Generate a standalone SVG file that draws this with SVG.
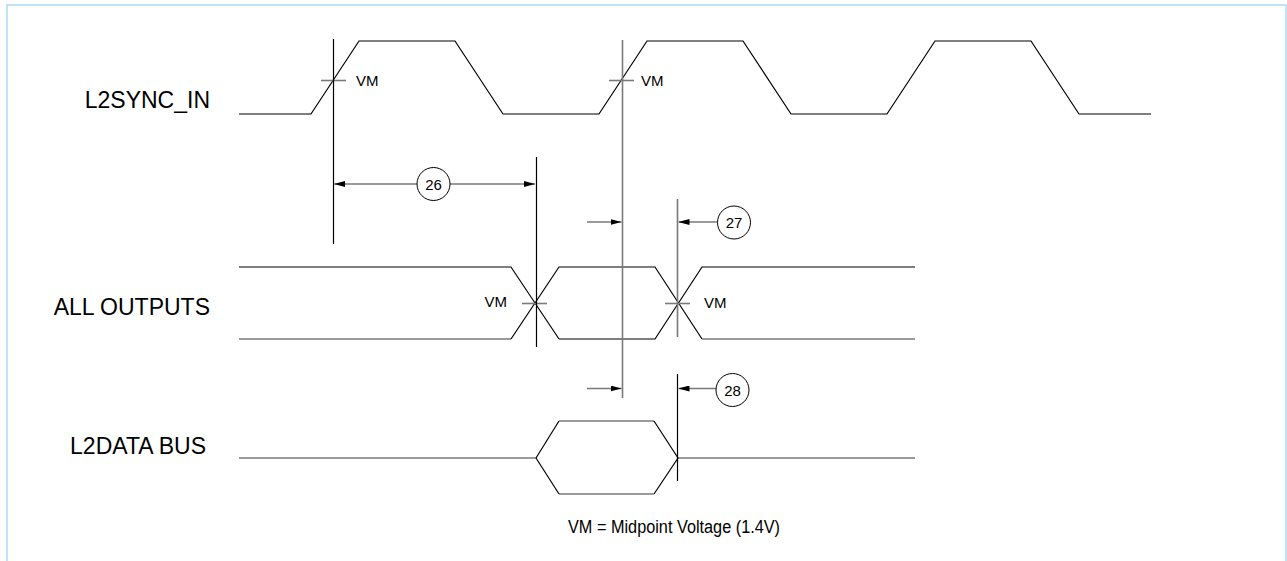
<svg xmlns="http://www.w3.org/2000/svg" width="1287" height="561" viewBox="0 0 1287 561">
<style>
.bk{fill:none;stroke:#000;stroke-width:1.2}
.gr{fill:none;stroke:#7a7a7a;stroke-width:1.6}
.lbl{font-family:"Liberation Sans",Arial,sans-serif;font-size:23px;fill:#000;text-anchor:end}
.foot{font-family:"Liberation Sans",Arial,sans-serif;font-size:18px;fill:#000;text-anchor:middle}
.vm{font-family:"Liberation Sans",Arial,sans-serif;font-size:15px;fill:#000}
.num{font-family:"Liberation Sans",Arial,sans-serif;font-size:15px;fill:#000;text-anchor:middle}
.circ{fill:#fff;stroke:#000;stroke-width:1}
</style>
<defs>
<marker id="ah" viewBox="0 0 11 6" refX="11" refY="3" markerWidth="11" markerHeight="6" markerUnits="userSpaceOnUse" orient="auto">
<path d="M0,0 L11,3 L0,6 z" fill="#000"/>
</marker>
</defs>
<rect x="7" y="5" width="1279" height="600" fill="#fff" stroke="#a8dcf8" stroke-width="1.5"/>

<g id="labels">
<text class="lbl" x="210" y="108">L2SYNC_IN</text>
<text class="lbl" x="210" y="315">ALL OUTPUTS</text>
<text class="lbl" x="206" y="454">L2DATA BUS</text>
<text class="foot" x="674" y="533" textLength="212" lengthAdjust="spacingAndGlyphs">VM = Midpoint Voltage (1.4V)</text>
</g>

<g id="l2sync_in">
<polyline class="bk" points="239,114 311,114 359,41 455,41 503,114 599,114 647,41 743,41 791,114 887,114 935,41 1031,41 1079,114 1151,114"/>
<line class="gr" x1="321" y1="80.5" x2="346" y2="80.5"/>
<line class="gr" x1="609" y1="80.5" x2="634" y2="80.5"/>
<text class="vm" x="356" y="86">VM</text>
<text class="vm" x="641" y="86">VM</text>
</g>

<g id="all_outputs">
<polyline class="bk" points="239,267 511,267 559,339"/>
<polyline class="gr" points="239,339 511,339"/>
<polyline class="bk" points="511,339 559,267 655,267 702,339"/>
<polyline class="bk" points="559,339 655,339 702,267 915,267"/>
<line class="gr" x1="702" y1="339" x2="915" y2="339"/>
<line class="gr" x1="522" y1="303.5" x2="547" y2="303.5"/>
<line class="gr" x1="665" y1="303.5" x2="690" y2="303.5"/>
<text class="vm" x="484.5" y="307">VM</text>
<text class="vm" x="704" y="308">VM</text>
</g>

<g id="l2data_bus">
<line class="gr" x1="239" y1="458" x2="536" y2="458"/>
<line class="gr" x1="678" y1="458" x2="915" y2="458"/>
<polyline class="bk" points="536,458 559,421"/>
<line class="gr" x1="559" y1="421" x2="654" y2="421"/>
<polyline class="bk" points="654,421 678,458 654,494"/>
<line class="gr" x1="559" y1="494" x2="654" y2="494"/>
<polyline class="bk" points="536,458 559,494"/>
</g>

<g id="connectors">
<line class="bk" x1="333.5" y1="39" x2="333.5" y2="244"/>
<line class="gr" x1="622.5" y1="40" x2="622.5" y2="398"/>
<line class="bk" x1="536.5" y1="157" x2="536.5" y2="347"/>
<line class="gr" x1="677.5" y1="199" x2="677.5" y2="337"/>
<line class="bk" x1="677.5" y1="374" x2="677.5" y2="481"/>

<line class="gr" x1="417" y1="184" x2="334" y2="184" marker-end="url(#ah)"/>
<line class="gr" x1="450" y1="184" x2="535" y2="184" marker-end="url(#ah)"/>
<line class="gr" x1="587" y1="222" x2="621.5" y2="222" marker-end="url(#ah)"/>
<line class="gr" x1="717" y1="222" x2="678.5" y2="222" marker-end="url(#ah)"/>
<line class="gr" x1="587" y1="388.5" x2="621.5" y2="388.5" marker-end="url(#ah)"/>
<line class="gr" x1="716" y1="388.5" x2="678.5" y2="388.5" marker-end="url(#ah)"/>
</g>

<g id="ref26">
<circle class="circ" cx="433.5" cy="184" r="16.5"/>
<text class="num" x="433.5" y="189.5">26</text>
</g>
<g id="ref27">
<circle class="circ" cx="734" cy="222.5" r="16.5"/>
<text class="num" x="734" y="228">27</text>
</g>
<g id="ref28">
<circle class="circ" cx="732.5" cy="390" r="16.5"/>
<text class="num" x="732.5" y="395.5">28</text>
</g>
</svg>
